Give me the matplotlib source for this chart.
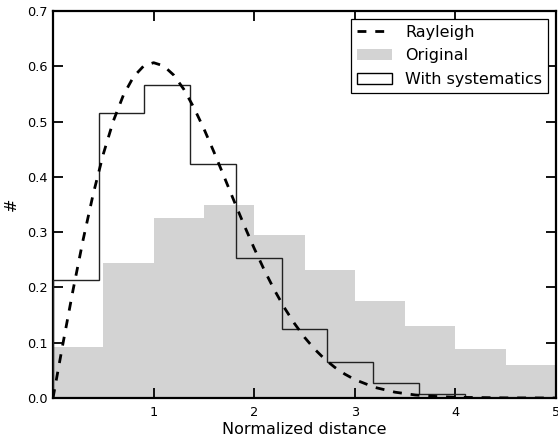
import matplotlib
matplotlib.use("Agg")
import matplotlib.pyplot as plt
from matplotlib.patches import Patch
from matplotlib.lines import Line2D

# Data
orig_edges = [0.0, 0.5, 1.0, 1.5, 2.0, 2.5, 3.0, 3.5, 4.0, 4.5, 5.0]
orig_values = [0.093, 0.244, 0.325, 0.349, 0.294, 0.231, 0.175, 0.131, 0.089, 0.060]

sys_edges = [0.0, 0.4545, 0.9091, 1.3636, 1.8182, 2.2727, 2.7273, 3.1818,
             3.6364, 4.0909, 4.5455, 5.0]
sys_values = [0.213, 0.515, 0.567, 0.424, 0.254, 0.125, 0.066, 0.028, 0.007, 0.0, 0.0]

ray_x = [0.0, 0.1, 0.2, 0.3, 0.4, 0.5, 0.6, 0.7, 0.8, 0.9, 1.0, 1.1, 1.2, 1.3,
         1.4, 1.5, 1.6, 1.7, 1.8, 1.9, 2.0, 2.1, 2.2, 2.3, 2.4, 2.5, 2.6, 2.7,
         2.8, 2.9, 3.0, 3.2, 3.4, 3.6, 3.8, 4.0, 4.5, 5.0]
ray_y = [0.0, 0.0995, 0.196, 0.2868, 0.3692, 0.4412, 0.5012, 0.5479, 0.5809,
         0.6003, 0.6065, 0.6007, 0.5841, 0.5585, 0.5254, 0.487, 0.4449, 0.4007,
         0.3562, 0.3125, 0.2707, 0.2316, 0.1956, 0.1633, 0.1348, 0.1098, 0.0885,
         0.0705, 0.0556, 0.0433, 0.0333, 0.0191, 0.0105, 0.0055, 0.0028, 0.0013,
         0.0002, 0.0]

x_ticks = [1, 2, 3, 4, 5]
y_ticks = [0.0, 0.1, 0.2, 0.3, 0.4, 0.5, 0.6, 0.7]

fs = 11.5
tfs = 9.3
dash = (0, (3.2, 3.2))
fig = plt.figure(figsize=(5.58, 4.41), dpi=100)
ax = fig.add_axes([53 / 558, 1 - 398 / 441, (556 - 53) / 558, (398 - 11) / 441])

ax.stairs(orig_values, orig_edges, fill=True, color="#d3d3d3", linewidth=0,
          label="Original")
ax.stairs(sys_values, sys_edges, color="#222222", linewidth=1.0,
          label="With systematics", zorder=3)
ax.plot(ray_x, ray_y, color="black", linestyle=dash, linewidth=2.0,
        label="Rayleigh", zorder=4)

ax.set_xlim(0, 5)
ax.set_ylim(0, 0.7)
ax.set_xticks(x_ticks)
ax.set_yticks(y_ticks)
ax.set_xticklabels([str(t) for t in x_ticks], fontsize=tfs)
ax.set_yticklabels(["%.1f" % t for t in y_ticks], fontsize=tfs)
ax.tick_params(direction="in", top=True, right=True, length=7, width=1.3)
ax.tick_params(axis="x", pad=6)
ax.tick_params(axis="y", pad=4)
for s in ax.spines.values():
    s.set_linewidth(1.6)

ax.set_xlabel("Normalized distance", fontsize=fs, labelpad=2)
ax.set_ylabel("#", fontsize=fs, labelpad=6)

handles = [
    Line2D([0], [0], color="black", linestyle=dash, linewidth=2.0),
    Patch(facecolor="#d3d3d3", edgecolor="none"),
    Patch(facecolor="white", edgecolor="black", linewidth=1.0),
]
labels = ["Rayleigh", "Original", "With systematics"]
leg = ax.legend(handles, labels, loc="upper right", fontsize=fs, fancybox=False,
                framealpha=1, edgecolor="black", borderaxespad=0.5,
                handlelength=2.2, handletextpad=0.85, labelspacing=0.55,
                borderpad=0.35)
leg.get_frame().set_linewidth(0.9)

fig.savefig("out.png", dpi=100)
